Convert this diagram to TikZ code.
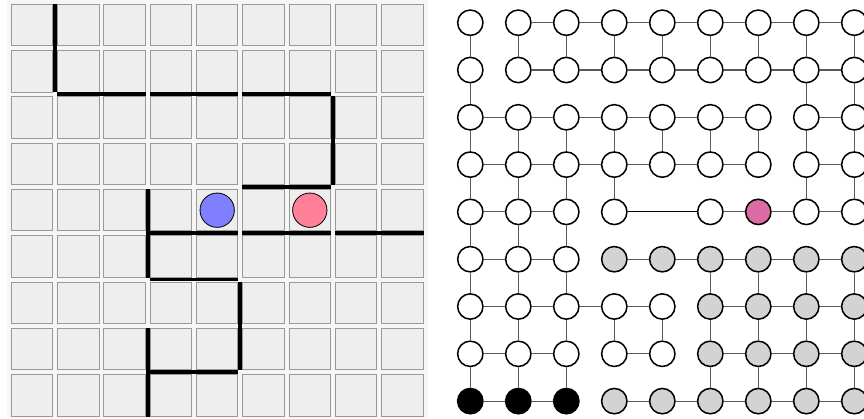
\documentclass[tikz,border=0pt]{standalone}
\definecolor{boardbg}{RGB}{246,246,246}
\definecolor{boardcell}{RGB}{238,238,238}
\definecolor{cellline}{RGB}{153,153,153}
\definecolor{pawnblue}{RGB}{128,128,255}
\definecolor{pawnpink}{RGB}{255,128,153}
\definecolor{vtxpink}{RGB}{219,106,165}
\definecolor{vtxgrey}{RGB}{211,211,211}

\begin{document}
\begin{tikzpicture}[x=0.03cm, y=-0.03cm,
    cell/.style={draw=cellline, fill=boardcell, line width=0.8pt, minimum size=1.24cm, inner sep=0pt},
    pawn/.style={circle, draw, line width=0.7pt, minimum size=1.03cm, inner sep=0pt},
    wallline/.style={line width=3.4pt},
    vw/.style={circle, draw, line width=1.3pt, minimum size=0.76cm, inner sep=0pt, fill=white},
    vg/.style={vw, fill=vtxgrey},
    vb/.style={vw, fill=black},
    vp/.style={vw, fill=vtxpink},
    link/.style={draw=black!65, line width=0.9pt},
    jump/.style={draw=black, line width=0.7pt}
]
\useasboundingbox (0,0) rectangle (864,418);

% board
\fill[boardbg] (7,0) rectangle (428,418);
\foreach \r in {0,...,8}
  \foreach \c in {0,...,8}
    \node[cell] (cell-\r-\c) at ({32+46.3*\c},{25+46.3*\r}) {};

% walls
\foreach \r/\c in {2/1,2/3,2/5,4/5,5/3,5/5,5/7,6/3,8/3} {
  \pgfmathtruncatemacro\cc{\c+1}
  \draw[wallline] ([yshift=0.065cm]cell-\r-\c.north west) -- ([yshift=0.065cm]cell-\r-\cc.north east);
}
\foreach \c/\r in {1/0,7/2,3/4,5/6,3/7} {
  \pgfmathtruncatemacro\rr{\r+1}
  \draw[wallline] ([xshift=-0.065cm]cell-\r-\c.north west) -- ([xshift=-0.065cm]cell-\rr-\c.south west);
}

\node[pawn, fill=pawnblue] (blue) at (cell-4-4) {};
\node[pawn, fill=pawnpink] (pink) at (cell-4-6) {};

% graph
\foreach \r/\kinds in {0/{w,w,w,w,w,w,w,w,w}, 1/{w,w,w,w,w,w,w,w,w},
    2/{w,w,w,w,w,w,w,w,w}, 3/{w,w,w,w,w,w,w,w,w}, 4/{w,w,w,w,x,w,p,w,w},
    5/{w,w,w,g,g,g,g,g,g}, 6/{w,w,w,w,w,g,g,g,g}, 7/{w,w,w,w,w,g,g,g,g},
    8/{b,b,b,g,g,g,g,g,g}}
  \foreach \k [count=\c from 0] in \kinds {
    \if\k x\else
      \node[v\k] (n-\r-\c) at ({470.3+48*\c},{22.7+47.3*\r}) {};
    \fi
  }

\foreach \r/\cs in {0/{1,...,7}, 1/{1,...,7}, 2/{0,...,5,7}, 3/{0,...,5,7},
    4/{0,1,5,6,7}, 5/{0,1,3,4,5,6,7}, 6/{0,1,2,3,5,6,7}, 7/{0,1,3,5,6,7},
    8/{0,1,3,4,5,6,7}}
  \foreach \c in \cs {
    \pgfmathtruncatemacro\cc{\c+1}
    \draw[link] (n-\r-\c) -- (n-\r-\cc);
  }
\foreach \r/\cs in {0/{0,...,8}, 1/{0,7,8}, 2/{0,...,8}, 3/{0,1,2,3,7,8},
    4/{0,1,2}, 5/{0,1,2,5,6,7,8}, 6/{0,...,8}, 7/{0,1,2,5,6,7,8}}
  \foreach \c in \cs {
    \pgfmathtruncatemacro\rr{\r+1}
    \draw[link] (n-\r-\c) -- (n-\rr-\c);
  }
\draw[jump] (n-4-3) -- (n-4-5);
\end{tikzpicture}
\end{document}
